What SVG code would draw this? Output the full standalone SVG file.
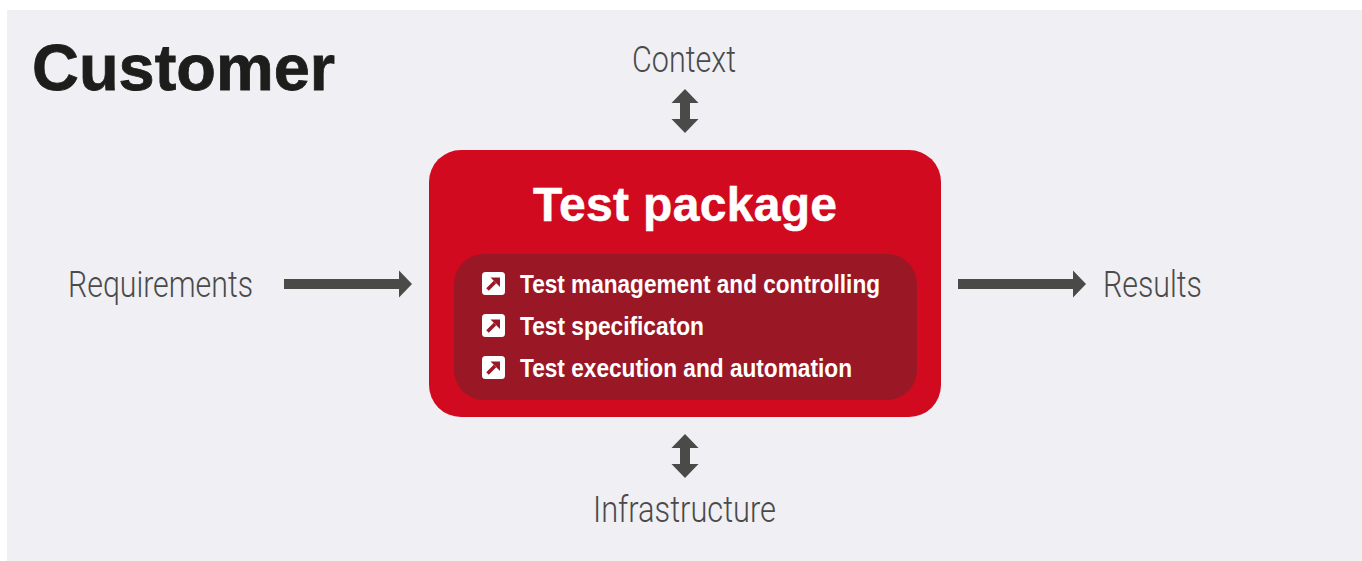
<svg xmlns="http://www.w3.org/2000/svg" width="1362" height="561" viewBox="0 0 1362 561">
<style>
.lbl{font-family:"Roboto","Liberation Sans",sans-serif;font-weight:300;font-size:36px;fill:#4a4a4a}
.item{font-family:"Liberation Sans",Arial,sans-serif;font-weight:700;font-size:26px;fill:#fff}
.arr{fill:#4a4a49}
</style>
<defs>
<g id="ico"><rect x="0" y="0" width="23" height="23" rx="3.5" fill="#fff"/><path d="M5.500 17.500L13 10" fill="none" stroke="#9a1826" stroke-width="3.600"/><path d="M8.500 5.500H18V15Z" fill="#9a1826"/></g>
</defs>
<rect width="1362" height="561" fill="#fff"/>
<rect x="7" y="10" width="1355" height="551" fill="#efeff4"/>
<g id="title"><text x="32" y="90" font-family="Liberation Sans,Arial,sans-serif" font-weight="700" font-size="65" fill="#1d1d1b" stroke="#1d1d1b" stroke-width="0.800" textLength="303" lengthAdjust="spacingAndGlyphs">Customer</text></g>
<g id="connectors">
<path class="arr" d="M284 279H399V270.500L412 284L399 297.500V289H284Z"/>
<path class="arr" d="M958 279H1073V270.500L1086 284L1073 297.500V289H958Z"/>
<path class="arr" d="M685 89L698.500 103H690V119H698.500L685 133L671.500 119H680V103H671.500Z"/>
<path class="arr" d="M685 434L698.500 448H690V464H698.500L685 478L671.500 464H680V448H671.500Z"/>
</g>
<g id="context"><text class="lbl" x="632" y="72" textLength="104" lengthAdjust="spacingAndGlyphs">Context</text></g>
<g id="requirements"><text class="lbl" x="68" y="297" textLength="185" lengthAdjust="spacingAndGlyphs">Requirements</text></g>
<g id="results"><text class="lbl" x="1103" y="297" textLength="99" lengthAdjust="spacingAndGlyphs">Results</text></g>
<g id="infrastructure"><text class="lbl" x="593" y="522" textLength="183" lengthAdjust="spacingAndGlyphs">Infrastructure</text></g>
<g id="test-package">
<rect x="429" y="150" width="512" height="267" rx="32" fill="#d20a20"/>
<text x="533" y="221" font-family="Liberation Sans,Arial,sans-serif" font-weight="700" font-size="48" fill="#fff" stroke="#fff" stroke-width="0.500" textLength="304" lengthAdjust="spacing">Test package</text>
<rect x="454" y="254" width="463" height="146" rx="30" fill="#9a1826"/>
<use href="#ico" x="482" y="272"/>
<use href="#ico" x="482" y="314"/>
<use href="#ico" x="482" y="356"/>
<text class="item" x="520" y="293" textLength="360" lengthAdjust="spacingAndGlyphs">Test management and controlling</text>
<text class="item" x="520" y="335" textLength="184" lengthAdjust="spacingAndGlyphs">Test specificaton</text>
<text class="item" x="520" y="377" textLength="332" lengthAdjust="spacingAndGlyphs">Test execution and automation</text>
</g>
</svg>
